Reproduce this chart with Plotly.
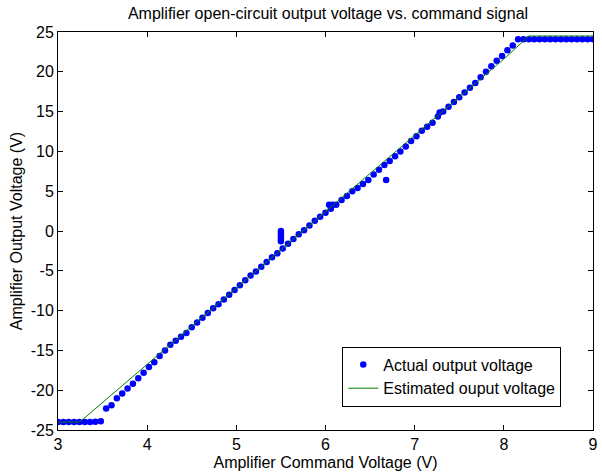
import plotly.graph_objects as go

actual_x = [3.00, 3.06, 3.12, 3.18, 3.24, 3.30, 3.36, 3.42, 3.48, 3.54,
            3.60, 3.66, 3.72, 3.78, 3.84, 3.90, 3.96, 4.02, 4.08, 4.14,
            4.20, 4.26, 4.32, 4.38, 4.44, 4.50, 4.56, 4.62, 4.68, 4.74,
            4.80, 4.86, 4.92, 4.98, 5.04, 5.10, 5.16, 5.22, 5.28, 5.34,
            5.40, 5.46, 5.52, 5.58, 5.64, 5.70, 5.76, 5.82, 5.88, 5.94,
            6.00, 6.06, 6.12, 6.18, 6.24, 6.30, 6.36, 6.42, 6.48, 6.54,
            6.60, 6.66, 6.72, 6.78, 6.84, 6.90, 6.96, 7.02, 7.08, 7.14,
            7.20, 7.26, 7.32, 7.38, 7.44, 7.50, 7.56, 7.62, 7.68, 7.74,
            7.80, 7.86, 7.92, 7.98, 8.04, 8.10, 8.16, 8.22, 8.28, 8.34,
            8.40, 8.46, 8.52, 8.58, 8.64, 8.70, 8.76, 8.82, 8.88, 8.94,
            9.00,
            5.50, 5.50, 5.50, 5.50, 5.50, 6.04, 6.08, 6.68, 7.28]
actual_y = [-24.0, -24.0, -24.0, -24.0, -24.0, -24.0, -24.0, -23.95, -23.9, -22.3,
            -21.9, -21.0, -20.4, -19.8, -19.2, -18.5, -17.8, -17.1, -16.5, -15.7,
            -15.0, -14.3, -13.8, -13.3, -12.8, -12.1, -11.5, -10.9, -10.3, -9.7,
            -9.2, -8.6, -8.0, -7.4, -6.8, -6.2, -5.6, -5.1, -4.5, -3.9,
            -3.3, -2.8, -2.2, -1.6, -1.0, -0.4, 0.1, 0.7, 1.3, 1.8,
            2.3, 2.8, 3.3, 3.9, 4.4, 5.0, 5.4, 5.9, 6.4, 7.1,
            7.7, 8.3, 8.8, 9.4, 10.0, 10.6, 11.3, 11.9, 12.6, 13.1,
            13.6, 14.4, 15.0, 15.6, 16.2, 16.8, 17.4, 18.0, 18.6, 19.3,
            20.0, 20.7, 21.4, 22.0, 22.7, 23.3, 24.1, 24.1, 24.1, 24.1,
            24.1, 24.1, 24.1, 24.1, 24.1, 24.1, 24.1, 24.1, 24.1, 24.1,
            24.1,
            0.0, -0.3, -0.65, -1.0, -1.3, 3.3, 3.3, 6.4, 14.9]

# Estimated output voltage (model)
est_x = [3.00, 3.244, 8.02, 8.28, 9.00]
est_y = [-24.0, -24.0, 21.8, 24.5, 24.5]

x_ticks = [3, 4, 5, 6, 7, 8, 9]
x_ticklabels = ["3", "4", "5", "6", "7", "8", "9"]
y_ticks = [-25, -20, -15, -10, -5, 0, 5, 10, 15, 20, 25]
y_ticklabels = ["-25", "-20", "-15", "-10", "-5", "0", "5", "10", "15", "20", "25"]

FONT = "Arial, Liberation Sans, sans-serif"
FS = 16

fig = go.Figure()
fig.add_trace(go.Scatter(
    x=actual_x, y=actual_y, mode="markers", name="Actual output voltage",
    marker=dict(color="#0000FF", size=6.5, line=dict(width=0)),
))
fig.add_trace(go.Scatter(
    x=est_x, y=est_y, mode="lines", name="Estimated ouput voltage",
    line=dict(color="#008000", width=1),
))

axis_common = dict(
    showline=True, linecolor="black", linewidth=1, mirror="ticks",
    ticks="inside", ticklen=5, tickcolor="black", tickwidth=1,
    showgrid=False, zeroline=False, ticklabeloverflow="allow",
    tickfont=dict(family=FONT, size=FS, color="black"),
)

fig.update_layout(
    width=602, height=474,
    margin=dict(l=58, r=4, t=32, b=44),
    paper_bgcolor="white", plot_bgcolor="white",
    font=dict(family=FONT, size=FS, color="black"),
    title=dict(text="Amplifier open-circuit output voltage vs. command signal",
               x=(58 + 270) / 602, xanchor="center", y=1 - 13 / 474, yanchor="middle",
               font=dict(family=FONT, size=FS, color="black")),
    xaxis=dict(range=[3, 9], tickvals=x_ticks, ticktext=x_ticklabels,
               title=dict(text="Amplifier Command Voltage (V)", standoff=4,
                          font=dict(family=FONT, size=FS, color="black")),
               **axis_common),
    yaxis=dict(range=[-25, 25], tickvals=y_ticks, ticktext=y_ticklabels,
               title=dict(text="Amplifier Output Voltage (V)", standoff=4,
                          font=dict(family=FONT, size=FS, color="black")),
               **axis_common),
    showlegend=True,
    legend=dict(x=0.736, y=0.1344, xanchor="center", yanchor="middle",
                bgcolor="white", bordercolor="black", borderwidth=1,
                font=dict(family=FONT, size=FS, color="black"),
                tracegroupgap=0, itemwidth=30),
)

fig.write_html("out.html")
